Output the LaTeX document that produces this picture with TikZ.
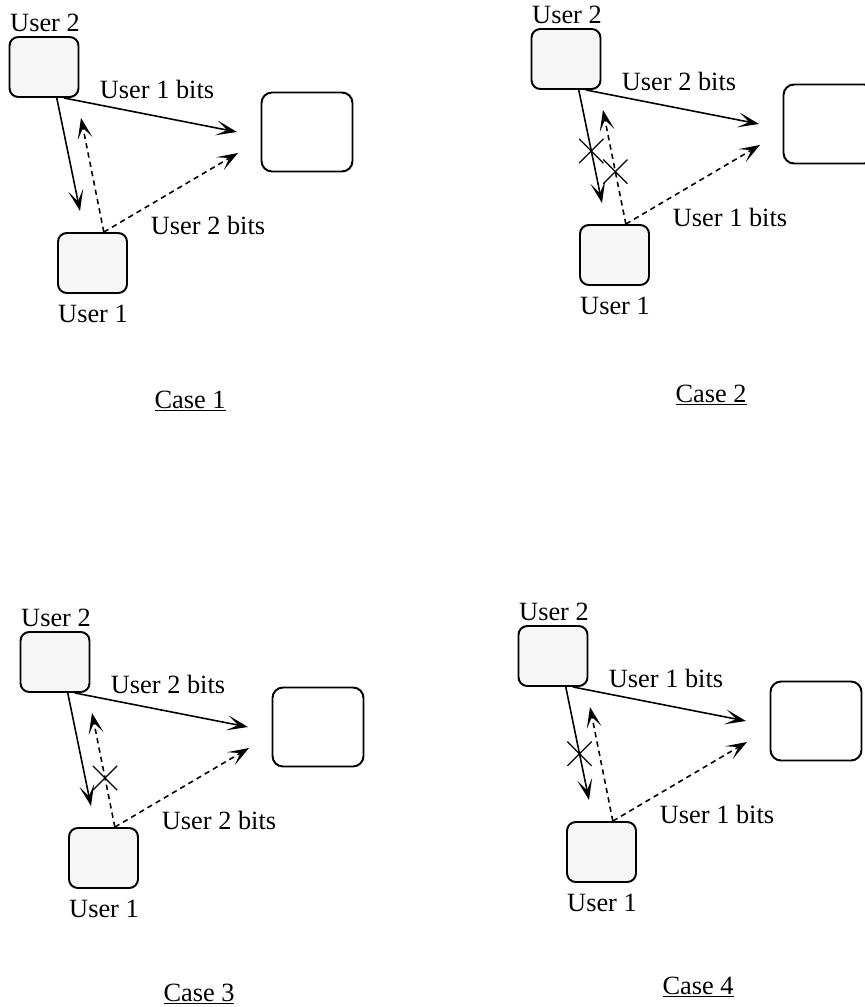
\documentclass[tikz,border=0pt]{standalone}
\usepackage{fontspec}
\setmainfont{Liberation Serif}
\usetikzlibrary{arrows.meta, calc, shapes.misc}

\begin{document}
\begin{tikzpicture}[x=0.02cm, y=-0.02cm, font=\fontsize{15}{18}\selectfont]
	\tikzset{
		user/.style={draw, rounded corners=5pt, fill=gray!7, line width=1.1pt, minimum width=1.38cm, minimum height=1.2cm, inner sep=0pt},
		base/.style={draw, rounded corners=6pt, line width=1.1pt, minimum width=1.82cm, minimum height=1.58cm, inner sep=0pt},
		link/.style={line width=0.9pt, -{Stealth[length=0.42cm, width=0.3cm, inset=0.22cm]}},
		back/.style={link, dash pattern=on 3pt off 2.4pt},
		cut/.style={cross out, draw, line width=0.7pt, minimum size=0.46cm, inner sep=0pt}
	}
	\useasboundingbox (0,0) rectangle (865,1007);
	\foreach \n/\sx/\sy/\bitsA/\bitsB/\cx/\cy in {1/10/37/1/2/190/408, 2/532/29/2/1/711/402, 3/21/632/2/2/199/1001, 4/519/626/1/1/698/994} {
		\begin{scope}[shift={(\sx,\sy)}]
			\node[user] (u2-\n) at (34,30) {};
			\node[user] (u1-\n) at (82.5,226) {};
			\node[base] (bs-\n) at (297,95) {};
			\node (n2-\n) at (35,-14) {User 2};
			\node (n1-\n) at (83,277) {User 1};
			\node (la-\n) at (147,52) {User \bitsA\ bits};
			\node (lb-\n) at (198,188) {User \bitsB\ bits};
			\coordinate (ra-\n) at (227,95);
			\coordinate (rb-\n) at (228,116);
			\coordinate (da-\n) at (70,174);
			\coordinate (ua-\n) at (71,81);
		\end{scope}
		\coordinate (o-\n) at ($(u2-\n.south west)!0.78!(u2-\n.south east)$);
		\coordinate (od-\n) at ($(u2-\n.south west)!0.68!(u2-\n.south east)$);
		\coordinate (i-\n) at ($(u1-\n.north west)!0.66!(u1-\n.north east)$);
		\draw[link] (o-\n) -- (ra-\n);
		\draw[link] (od-\n) -- (da-\n);
		\draw[back] (i-\n) -- (ua-\n);
		\draw[back] (i-\n) -- (rb-\n);
		\node[anchor=base] (c-\n) at (\cx,\cy) {\underline{Case \n}};
	}
	% blocked links
	\node[cut] (x2a) at ($(od-2)!0.54!(da-2)$) {};
	\node[cut] (x2b) at ($(i-2)!0.46!(ua-2)$) {};
	\node[cut] (x3) at ($(i-3)!0.43!(ua-3)$) {};
	\node[cut] (x4) at ($(od-4)!0.59!(da-4)$) {};
\end{tikzpicture}
\end{document}
